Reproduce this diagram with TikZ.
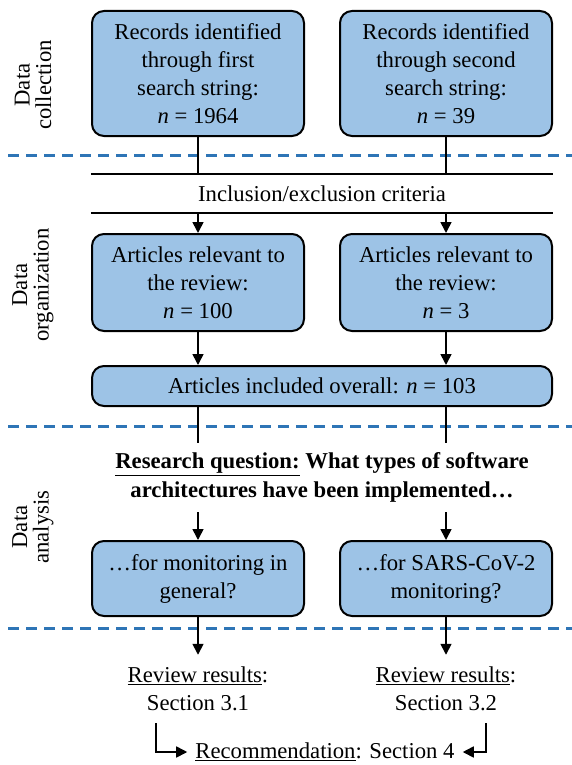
\documentclass[tikz,border=0pt]{standalone}
\usepackage{fontspec}
\setmainfont{Liberation Serif}
\usetikzlibrary{arrows.meta}
\definecolor{boxblue}{HTML}{9DC3E6}
\definecolor{lineblue}{HTML}{2E75B6}

\begin{document}
\begin{tikzpicture}[x=1pt, y=-1pt,
        every node/.style={font=\fontsize{22.7}{28}\selectfont, align=center, inner sep=0pt},
        stage/.style={draw=black, line width=2pt, fill=boxblue, rounded corners=12pt, minimum width=212pt},
        phase/.style={rotate=90, font=\fontsize{22.7}{21.5}\selectfont},
        sep/.style={lineblue, line width=3pt, dash pattern=on 11pt off 7pt},
        link/.style={line width=1.6pt},
        flow/.style={line width=1.6pt, -{Triangle[length=11pt, width=11pt]}}]
            \useasboundingbox (0,0) rectangle (572,765);
            \draw[sep] (8,155) -- (572,155);
            \draw[sep] (8,426) -- (572,426);
            \draw[sep] (8,628) -- (572,628);
            \node[phase] (lcol) at (33,85) {Data\\collection};
            \node[phase] (lorg) at (33,285) {Data\\organization};
            \node[phase] (lana) at (33,527) {Data\\analysis};
            \node[stage, minimum height=125pt] (rec1) at (198,73.5) {Records identified\\through first\\search string:\\\textit{n} = 1964};
            \node[stage, minimum height=125pt] (rec2) at (446,73.5) {Records identified\\through second\\search string:\\\textit{n} = 39};
            \node[minimum width=462pt, minimum height=39pt] (crit) at (322,193.5) {Inclusion/exclusion criteria};
            \draw[link] (crit.north west) -- (crit.north east);
            \draw[link] (crit.south west) -- (crit.south east);
            \node[stage, minimum height=97pt] (art1) at (198,282.5) {Articles relevant to\\the review:\\\textit{n} = 100};
            \node[stage, minimum height=97pt] (art2) at (446,282.5) {Articles relevant to\\the review:\\\textit{n} = 3};
            \node[stage, minimum width=460pt, minimum height=40pt] (all) at (322,386) {Articles included overall: \textit{n} = 103};
            \node[minimum width=462pt, minimum height=69pt, font=\bfseries\fontsize{22.7}{29}\selectfont] (rq) at (322,477.5) {\underline{Research question:} What types of software\\architectures have been implemented…};
            \node[stage, minimum height=75pt] (gen) at (198,578.5) {…for monitoring in\\general?};
            \node[stage, minimum height=75pt] (sars) at (446,578.5) {…for SARS-CoV-2\\monitoring?};
            \node[inner ysep=12pt] (res1) at (198,689) {\underline{Review results}:\\Section 3.1};
            \node[inner ysep=12pt] (res2) at (446,689) {\underline{Review results}:\\Section 3.2};
            \node[inner xsep=8pt] (recom) at (325,752) {\underline{Recommendation}: Section 4};
            \draw[link] (rec1) -- (rec1 |- crit.north);
            \draw[link] (rec2) -- (rec2 |- crit.north);
            \draw[flow] (rec1 |- crit.south) -- (art1);
            \draw[flow] (rec2 |- crit.south) -- (art2);
            \draw[flow] (art1) -- (art1 |- all.north);
            \draw[flow] (art2) -- (art2 |- all.north);
            \draw[link] (all.south -| art1) -- (rq.north -| art1);
            \draw[link] (all.south -| art2) -- (rq.north -| art2);
            \draw[flow] (rq.south -| gen) -- (gen);
            \draw[flow] (rq.south -| sars) -- (sars);
            \draw[flow] (gen) -- (res1);
            \draw[flow] (sars) -- (res2);
            \draw[flow] ([xshift=-42pt]res1.south) |- (recom.west);
            \draw[flow] ([xshift=40pt]res2.south) |- (recom.east);
        \end{tikzpicture}
\end{document}
